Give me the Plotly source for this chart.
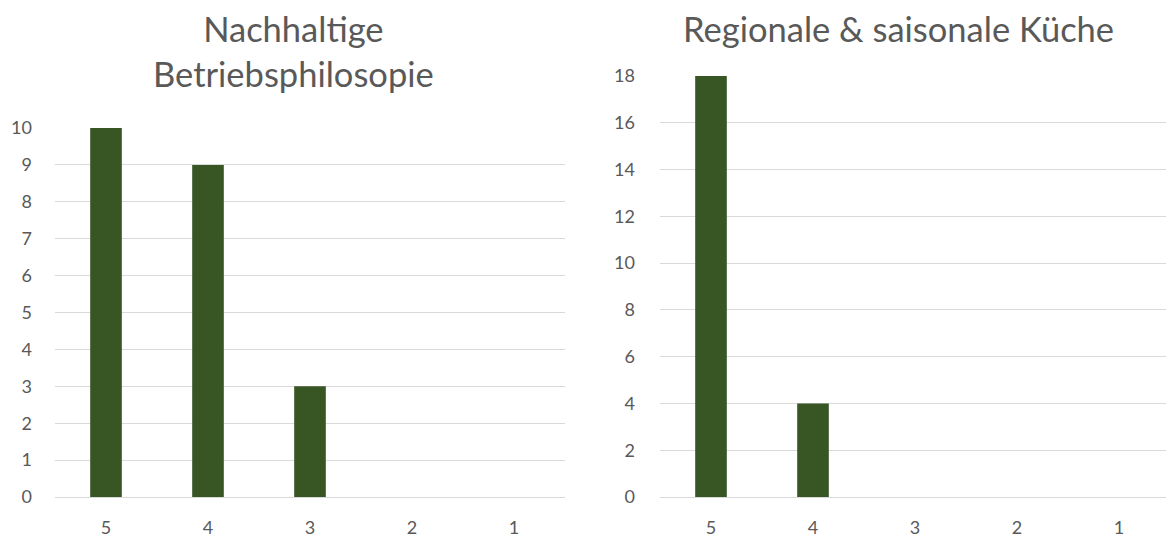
import plotly.graph_objects as go

categories = ["5", "4", "3", "2", "1"]
left_values = [10, 9, 3, 0, 0]
right_values = [18, 4, 0, 0, 0]
left_title = "Nachhaltige<br>Betriebsphilosopie"
right_title = "Regionale & saisonale Küche"
left_ticks = list(range(0, 11, 1))
right_ticks = list(range(0, 19, 2))

W, H = 1166, 539
BAR = "#375623"
GRID = "#d9d9d9"
TXT = "#595959"
FONT = "Lato, 'Open Sans', sans-serif"

def fx(px):
    return px / W

def fy(py):
    return (H - py) / H

fig = go.Figure()
fig.add_trace(go.Bar(x=categories, y=left_values, marker_color=BAR, width=0.31,
                     marker_line_width=0,
                     xaxis="x", yaxis="y", showlegend=False, hoverinfo="x+y"))
fig.add_trace(go.Bar(x=categories, y=right_values, marker_color=BAR, width=0.31,
                     marker_line_width=0,
                     xaxis="x2", yaxis="y2", showlegend=False, hoverinfo="x+y"))

axis_common = dict(showline=False, ticks="", automargin=False,
                   tickfont=dict(size=18, color=TXT, family=FONT))

fig.update_layout(
    width=W, height=H,
    margin=dict(l=0, r=0, t=0, b=0, autoexpand=False),
    paper_bgcolor="white", plot_bgcolor="white",
    font=dict(family=FONT, color=TXT),
    xaxis=dict(domain=[fx(55), fx(565)], type="category", range=[-0.5, 4.5],
               showgrid=False, anchor="y", ticklabelstandoff=18, **axis_common),
    yaxis=dict(domain=[fy(497), fy(128)], range=[0, 10], tickvals=left_ticks,
               showgrid=True, gridcolor=GRID, gridwidth=1, zeroline=True,
               zerolinecolor=GRID, zerolinewidth=1, anchor="x",
               ticklabelstandoff=22, **axis_common),
    xaxis2=dict(domain=[fx(660), 1.0], type="category", range=[-0.5, 4.5 - 4 / 102],
                showgrid=False, anchor="y2", ticklabelstandoff=18, **axis_common),
    yaxis2=dict(domain=[fy(497), fy(76)], range=[0, 18], tickvals=right_ticks,
                showgrid=True, gridcolor=GRID, gridwidth=1, zeroline=True,
                zerolinecolor=GRID, zerolinewidth=1, anchor="x2",
                ticklabelstandoff=24, **axis_common),
    annotations=[
        dict(text=left_title, x=fx(293), y=fy(51), xref="paper", yref="paper",
             xanchor="center", yanchor="middle", showarrow=False,
             font=dict(size=34.5, color=TXT, family=FONT), align="center"),
        dict(text=right_title, x=fx(899), y=fy(28), xref="paper", yref="paper",
             xanchor="center", yanchor="middle", showarrow=False,
             font=dict(size=34.5, color=TXT, family=FONT), align="center"),
    ],
)

fig.write_html("out.html")
